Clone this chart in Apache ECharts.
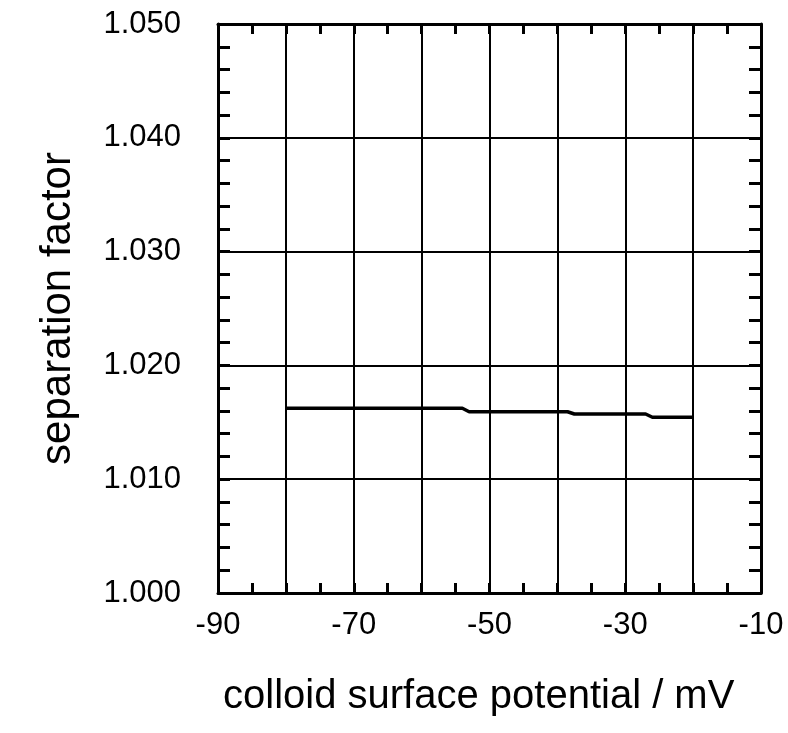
<!DOCTYPE html>
<html>
<head>
<meta charset="utf-8">
<script src="https://cdn.jsdelivr.net/npm/echarts@6/dist/echarts.min.js"></script>
<style>html,body{margin:0;padding:0;background:#fff}#c{width:788px;height:733px}</style>
</head>
<body>
<div id="c"></div>
<script>
// data
const potential = [-80, -54, -53, -38.5, -37.5, -27, -26, -20];
const separationFactor = [1.01623, 1.01623, 1.01593, 1.01593, 1.01573, 1.01573, 1.01544, 1.01544];
const xTickLabels = [-90, -70, -50, -30, -10];
const yTickLabels = [1.000, 1.010, 1.020, 1.030, 1.040, 1.050];
const xTitle = 'colloid surface potential / mV';
const yTitle = 'separation factor';

const FONT = '"Liberation Sans", Arial, Helvetica, sans-serif';
const chart = echarts.init(document.getElementById('c'), null, {renderer: 'canvas'});

const xCommon = {
  type: 'value', min: -90, max: -10, interval: 10,
  axisLine: {show: true, lineStyle: {color: '#000', width: 3}},
  axisTick: {show: true, inside: true, length: 10, lineStyle: {color: '#000', width: 3}},
  minorTick: {show: true, splitNumber: 2, length: 10, lineStyle: {color: '#000', width: 3}},
  splitLine: {show: true, lineStyle: {color: '#000', width: 2}}
};
const yCommon = {
  type: 'value', min: 1.0, max: 1.05, interval: 0.01,
  axisLine: {show: true, lineStyle: {color: '#000', width: 3}},
  axisTick: {show: true, inside: true, length: 12, lineStyle: {color: '#000', width: 3}},
  minorTick: {show: true, splitNumber: 5, length: 12, lineStyle: {color: '#000', width: 3}},
  splitLine: {show: true, lineStyle: {color: '#000', width: 2}}
};

chart.setOption({
  animation: false,
  backgroundColor: '#fff',
  grid: {left: 218, right: 27, top: 24, bottom: 140, containLabel: false},
  xAxis: [
    Object.assign({}, xCommon, {
      position: 'bottom',
      axisLabel: {
        show: true, margin: 17, color: '#000', fontFamily: FONT, fontSize: 31,
        formatter: v => xTickLabels.some(t => Math.abs(t - v) < 1e-6) ? String(v) : ''
      }
    }),
    Object.assign({}, xCommon, {position: 'top', axisLabel: {show: false}, splitLine: {show: false}})
  ],
  yAxis: [
    Object.assign({}, yCommon, {
      position: 'left',
      axisLabel: {
        show: true, margin: 37, color: '#000', fontFamily: FONT, fontSize: 31,
        formatter: v => {
          const t = yTickLabels.find(t => Math.abs(t - v) < 1e-6);
          return t === undefined ? '' : t.toFixed(3);
        }
      },
      name: yTitle, nameLocation: 'middle', nameRotate: 90, nameGap: 139,
      nameTextStyle: {color: '#000', fontFamily: FONT, fontSize: 42}
    }),
    Object.assign({}, yCommon, {position: 'right', axisLabel: {show: false}, splitLine: {show: false}})
  ],
  graphic: [{
    type: 'text', left: 223, top: 677,
    style: {text: xTitle, fill: '#000', font: '40px ' + FONT}
  }],
  series: [{
    type: 'line', xAxisIndex: 0, yAxisIndex: 0,
    data: potential.map((x, i) => [x, separationFactor[i]]),
    showSymbol: false, symbol: 'none',
    lineStyle: {color: '#000', width: 3.5}
  }]
});
</script>
</body>
</html>
